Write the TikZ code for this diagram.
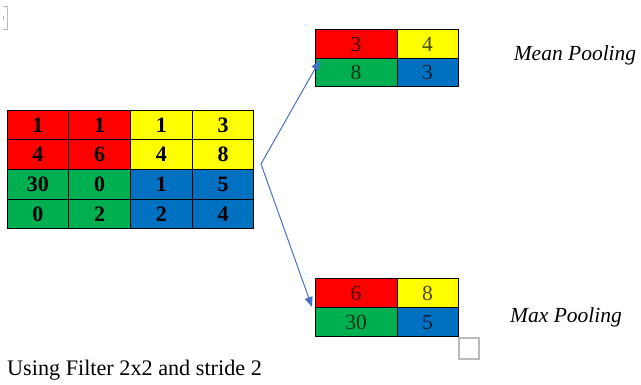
\documentclass[tikz,border=0pt]{standalone}
\usepackage{fontspec}
\setmainfont{Liberation Serif}
\usepackage{tikz}
\usetikzlibrary{arrows.meta}

\definecolor{cred}{HTML}{FF0000}
\definecolor{cyellow}{HTML}{FFFF00}
\definecolor{cgreen}{HTML}{00B050}
\definecolor{cblue}{HTML}{0070C0}
\definecolor{arrowblue}{HTML}{4472C4}
\definecolor{boxgray}{HTML}{BBBBBB}

\tikzset{
  cell/.style={draw, line width=1pt, inner sep=0pt, minimum width=61.75pt,
    minimum height=29.75pt, font=\fontsize{22}{24}\selectfont\bfseries},
  pool/.style={cell, font=\fontsize{21.5}{24}\selectfont, text opacity=0.72},
  wide/.style={minimum width=82pt},
  narrow/.style={minimum width=61pt},
  flow/.style={arrowblue, line width=1pt, -{Triangle[length=10pt,width=8pt]}}
}

\begin{document}
\begin{tikzpicture}[x=1pt,y=-1pt]
\useasboundingbox (0,0) rectangle (641,385);
% input 4x4
\node[cell,fill=cred] (a11) at (37.9,124.9) {1};
\node[cell,fill=cred] (a12) at (99.6,124.9) {1};
\node[cell,fill=cyellow] (a13) at (161.4,124.9) {1};
\node[cell,fill=cyellow] (a14) at (223.1,124.9) {3};
\node[cell,fill=cred] (a21) at (37.9,154.6) {4};
\node[cell,fill=cred] (a22) at (99.6,154.6) {6};
\node[cell,fill=cyellow] (a23) at (161.4,154.6) {4};
\node[cell,fill=cyellow] (a24) at (223.1,154.6) {8};
\node[cell,fill=cgreen] (a31) at (37.9,184.4) {30};
\node[cell,fill=cgreen] (a32) at (99.6,184.4) {0};
\node[cell,fill=cblue] (a33) at (161.4,184.4) {1};
\node[cell,fill=cblue] (a34) at (223.1,184.4) {5};
\node[cell,fill=cgreen] (a41) at (37.9,214.1) {0};
\node[cell,fill=cgreen] (a42) at (99.6,214.1) {2};
\node[cell,fill=cblue] (a43) at (161.4,214.1) {2};
\node[cell,fill=cblue] (a44) at (223.1,214.1) {4};
% mean pooling
\node[pool,wide,minimum height=28.5pt,fill=cred] (m11) at (356,44.25) {3};
\node[pool,narrow,minimum height=28.5pt,fill=cyellow] (m12) at (427.5,44.25) {4};
\node[pool,wide,minimum height=28.5pt,fill=cgreen] (m21) at (356,72.75) {8};
\node[pool,narrow,minimum height=28.5pt,fill=cblue] (m22) at (427.5,72.75) {3};
\node[anchor=base,font=\fontsize{21.5}{24}\selectfont\itshape] (meanlbl) at (575,61) {Mean Pooling};
% max pooling
\node[pool,wide,minimum height=29pt,fill=cred] (x11) at (356,293.5) {6};
\node[pool,narrow,minimum height=29pt,fill=cyellow] (x12) at (427.5,293.5) {8};
\node[pool,wide,minimum height=29pt,fill=cgreen] (x21) at (356,322.5) {30};
\node[pool,narrow,minimum height=29pt,fill=cblue] (x22) at (427.5,322.5) {5};
\node[anchor=base,font=\fontsize{21.5}{24}\selectfont\itshape] (maxlbl) at (566,323) {Max Pooling};
% arrows
\coordinate (fork) at (261,164);
\coordinate (meantip) at (320,60);
\coordinate (maxtip) at (312,307);
\draw[flow] (fork) -- (meantip);
\draw[flow] (fork) -- (maxtip);
% caption
\node[anchor=base west,inner sep=0pt,font=\fontsize{22.2}{24}\selectfont] (caption) at (7,376) {Using Filter 2x2 and stride 2};
% frame marks
\draw[boxgray,line width=1pt] (3,7)--(7,7)--(7,30)--(3,30);
\draw[boxgray,line width=1pt] (3,16)--(3,20);
\draw[boxgray,line width=1.2pt] (459,338) rectangle (479,359);
\end{tikzpicture}
\end{document}
